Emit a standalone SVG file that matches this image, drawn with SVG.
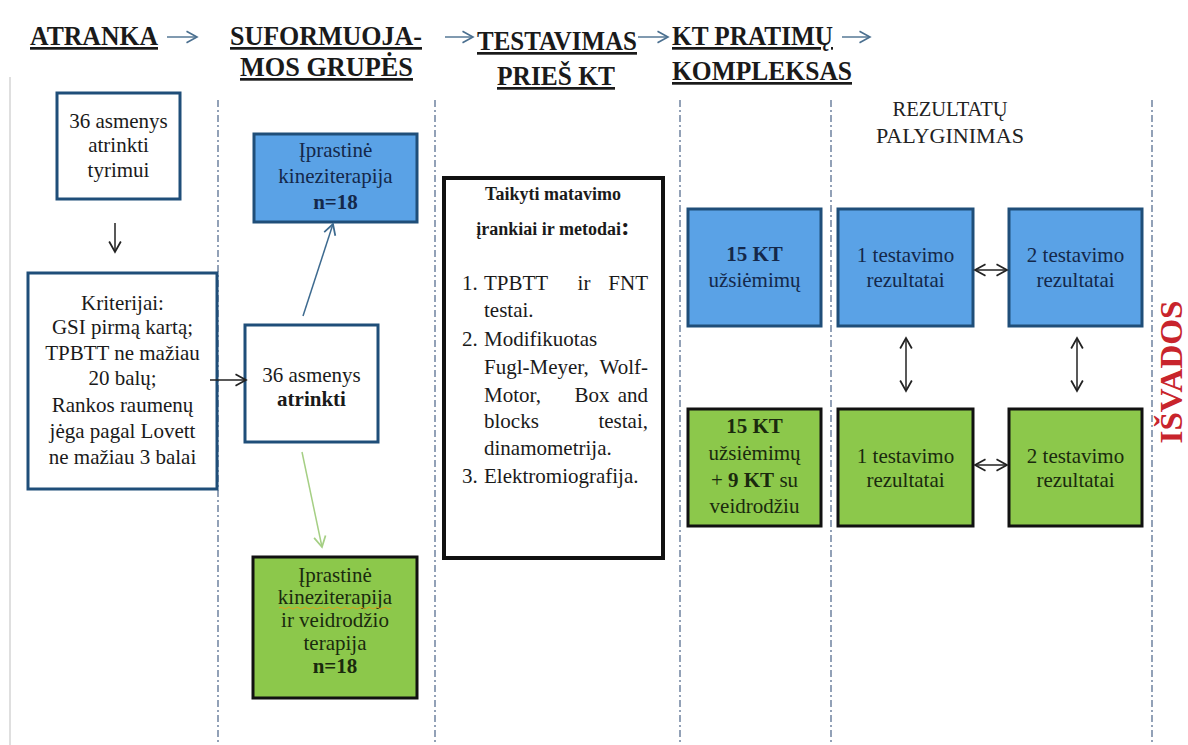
<svg xmlns="http://www.w3.org/2000/svg" width="1188" height="745" viewBox="0 0 1188 745">
<style>
text{font-family:"Liberation Serif","Tinos","Noto Serif","DejaVu Serif","FreeSerif","Nimbus Roman","Times New Roman",Times,serif;}
.hdr{font-weight:bold;font-size:27px;fill:#1a1a1a;text-decoration:underline;}
.t{font-size:21px;fill:#1a1a1a;text-anchor:middle;}
.tb{font-weight:bold;}
.tl{font-size:21px;fill:#1a1a1a;}
.rz{font-size:22px;fill:#222;text-anchor:middle;}
.blue{fill:#5aa2e6;stroke:#1f4e79;stroke-width:3;}
.green{fill:#8cc84b;stroke:#111;stroke-width:3;}
.white{fill:#fff;stroke:#1f4e79;stroke-width:3;}
.dash{stroke:#6f82a0;stroke-width:1.5;stroke-dasharray:7 3 2 3;fill:none;}
.con{stroke:#222;stroke-width:1.5;fill:none;}
.bt{fill:#14284a;}
.gt{fill:#1a2a0e;}
</style>
<defs>
<marker id="ah" markerUnits="userSpaceOnUse" markerWidth="14" markerHeight="14" refX="10" refY="6" orient="auto-start-reverse" viewBox="0 0 12 12">
<path d="M1,1 L10,6 L1,11" fill="none" stroke="#222" stroke-width="1.5"/>
</marker>
<marker id="ahb" markerUnits="userSpaceOnUse" markerWidth="14" markerHeight="14" refX="10" refY="6" orient="auto" viewBox="0 0 12 12">
<path d="M1,1 L10,6 L1,11" fill="none" stroke="#3d6a8f" stroke-width="1.5"/>
</marker>
<marker id="ahg" markerUnits="userSpaceOnUse" markerWidth="14" markerHeight="14" refX="10" refY="6" orient="auto" viewBox="0 0 12 12">
<path d="M1,1 L10,6 L1,11" fill="none" stroke="#a5cf84" stroke-width="1.5"/>
</marker>
<marker id="ahh" markerUnits="userSpaceOnUse" markerWidth="14" markerHeight="14" refX="10" refY="6" orient="auto" viewBox="0 0 12 12">
<path d="M1,1 L10,6 L1,11" fill="none" stroke="#4a6f8f" stroke-width="1.4"/>
</marker>
</defs>
<rect width="1188" height="745" fill="#fff"/>
<line x1="10" y1="77" x2="10" y2="745" stroke="#d4d4d4" stroke-width="1.5"/>

<g id="headers">
<text class="hdr" x="30" y="45" textLength="128" lengthAdjust="spacingAndGlyphs">ATRANKA</text>
<text class="hdr" x="230" y="45" textLength="192" lengthAdjust="spacingAndGlyphs">SUFORMUOJA-</text>
<text class="hdr" x="240" y="76" textLength="173" lengthAdjust="spacingAndGlyphs">MOS GRUPĖS</text>
<text class="hdr" x="477" y="50" textLength="160" lengthAdjust="spacingAndGlyphs">TESTAVIMAS</text>
<text class="hdr" x="497" y="85" textLength="118" lengthAdjust="spacingAndGlyphs">PRIEŠ KT</text>
<text class="hdr" x="672" y="45" textLength="161" lengthAdjust="spacingAndGlyphs">KT PRATIMŲ</text>
<text class="hdr" x="672" y="80" textLength="180" lengthAdjust="spacingAndGlyphs">KOMPLEKSAS</text>
<text class="rz" x="950" y="116" textLength="115" lengthAdjust="spacingAndGlyphs">REZULTATŲ</text>
<text class="rz" x="950" y="143" textLength="148" lengthAdjust="spacingAndGlyphs">PALYGINIMAS</text>
</g>

<g id="header-arrows" stroke="#4a6f8f" stroke-width="1.4">
<line x1="167" y1="37" x2="197" y2="37" marker-end="url(#ahh)"/>
<line x1="445" y1="37" x2="473" y2="37" marker-end="url(#ahh)"/>
<line x1="638" y1="37" x2="668" y2="37" marker-end="url(#ahh)"/>
<line x1="842" y1="37" x2="870" y2="37" marker-end="url(#ahh)"/>
</g>

<g id="separators">
<line class="dash" x1="218" y1="100" x2="218" y2="745"/>
<line class="dash" x1="435" y1="100" x2="435" y2="745"/>
<line class="dash" x1="680" y1="100" x2="680" y2="745"/>
<line class="dash" x1="831" y1="100" x2="831" y2="745"/>
<line class="dash" x1="1152" y1="100" x2="1152" y2="745"/>
</g>

<g id="n-atrinkti-tyrimui">
<rect class="white" x="57" y="93" width="123" height="106"/>
<text class="t" x="118.5" y="128">36 asmenys</text>
<text class="t" x="118.5" y="152">atrinkti</text>
<text class="t" x="118.5" y="177">tyrimui</text>
</g>

<g id="n-kriterijai">
<rect class="white" x="28" y="273" width="189" height="216"/>
<text class="t" x="122.5" y="310">Kriterijai:</text>
<text class="t" x="122.5" y="334">GSI pirmą kartą;</text>
<text class="t" x="122.5" y="360">TPBTT ne mažiau</text>
<text class="t" x="122.5" y="385">20 balų;</text>
<text class="t" x="122.5" y="412">Rankos raumenų</text>
<text class="t" x="122.5" y="438">jėga pagal Lovett</text>
<text class="t" x="122.5" y="464">ne mažiau  3  balai</text>
</g>

<g id="n-atrinkti">
<rect class="white" x="245" y="325" width="133" height="117"/>
<text class="t" x="311.5" y="382">36 asmenys</text>
<text class="t tb" x="311.5" y="406">atrinkti</text>
</g>

<g id="n-iprastine">
<rect class="blue" x="254" y="134" width="163" height="88"/>
<text class="t bt" x="335.5" y="157">Įprastinė</text>
<text class="t bt" x="335.5" y="183">kineziterapija</text>
<text class="t bt tb" x="335.5" y="209">n=18</text>
</g>

<g id="n-veidrodzio">
<rect class="green" x="253" y="557" width="164" height="141"/>
<text class="t gt" x="335" y="582">Įprastinė</text>
<text class="t gt" x="335" y="604">kineziterapija</text>
<path d="M279,608 q2,-2 4,0 t4,0 t4,0 t4,0 t4,0 t4,0 t4,0 t4,0 t4,0 t4,0 t4,0 t4,0 t4,0 t4,0 t4,0 t4,0 t4,0 t4,0 t4,0 t4,0 t4,0 t4,0 t4,0 t4,0 t4,0 t4,0 t4,0 t4,0" fill="none" stroke="#d9a520" stroke-width="1"/>
<text class="t gt" x="335" y="627">ir veidrodžio</text>
<text class="t gt" x="335" y="650">terapija</text>
<text class="t gt tb" x="335" y="673">n=18</text>
</g>

<g id="n-testavimas">
<rect x="444" y="178" width="219" height="380" fill="#fff" stroke="#111" stroke-width="4"/>
<text class="t tb" x="553" y="200" style="font-size:18px">Taikyti matavimo</text>
<text class="t tb" x="553" y="235" style="font-size:18px">įrankiai ir metodai<tspan style="font-size:26px">:</tspan></text>
<text class="tl" x="462" y="290">1.</text>
<text class="tl" x="484" y="290">TPBTT</text>
<text class="tl" x="584" y="290" text-anchor="middle">ir</text>
<text class="tl" x="648" y="290" text-anchor="end">FNT</text>
<text class="tl" x="484" y="317">testai.</text>
<text class="tl" x="462" y="346">2.</text>
<text class="tl" x="484" y="346">Modifikuotas</text>
<text class="tl" x="484" y="374">Fugl-Meyer,</text>
<text class="tl" x="648" y="374" text-anchor="end">Wolf-</text>
<text class="tl" x="484" y="402">Motor,</text>
<text class="tl" x="592" y="402" text-anchor="middle">Box</text>
<text class="tl" x="648" y="402" text-anchor="end">and</text>
<text class="tl" x="484" y="428">blocks</text>
<text class="tl" x="648" y="428" text-anchor="end">testai,</text>
<text class="tl" x="484" y="455">dinamometrija.</text>
<text class="tl" x="462" y="483">3.</text>
<text class="tl" x="484" y="483">Elektromiografija.</text>
</g>

<g id="n-kt15">
<rect class="blue" x="688" y="209" width="133" height="117"/>
<text class="t bt tb" x="754.5" y="261">15 KT</text>
<text class="t bt" x="754.5" y="287">užsiėmimų</text>
</g>
<g id="n-b1">
<rect class="blue" x="838" y="209" width="135" height="117"/>
<text class="t bt" x="905.5" y="262">1 testavimo</text>
<text class="t bt" x="905.5" y="287">rezultatai</text>
</g>
<g id="n-b2">
<rect class="blue" x="1009" y="209" width="133" height="117"/>
<text class="t bt" x="1075.5" y="262">2 testavimo</text>
<text class="t bt" x="1075.5" y="287">rezultatai</text>
</g>
<g id="n-kt24">
<rect class="green" x="688" y="409" width="133" height="117"/>
<text class="t gt tb" x="754.5" y="433">15 KT</text>
<text class="t gt" x="754.5" y="460">užsiėmimų</text>
<text class="t gt" x="754.5" y="487">+ <tspan class="tb">9 KT</tspan> su</text>
<text class="t gt" x="754.5" y="513">veidrodžiu</text>
</g>
<g id="n-g1">
<rect class="green" x="838" y="409" width="135" height="117"/>
<text class="t gt" x="905.5" y="463">1 testavimo</text>
<text class="t gt" x="905.5" y="487">rezultatai</text>
</g>
<g id="n-g2">
<rect class="green" x="1009" y="409" width="133" height="117"/>
<text class="t gt" x="1075.5" y="463">2 testavimo</text>
<text class="t gt" x="1075.5" y="487">rezultatai</text>
</g>

<g id="n-isvados">
<text x="1182" y="372" transform="rotate(-90 1182 372)" style="font-weight:bold;font-size:32px;fill:#c8242c;text-anchor:middle" textLength="143" lengthAdjust="spacingAndGlyphs">IŠVADOS</text>
</g>

<g id="connectors">
<line class="con" x1="115" y1="223" x2="115" y2="252" marker-end="url(#ah)"/>
<line class="con" x1="210" y1="380" x2="246" y2="380" marker-end="url(#ah)"/>
<line x1="303" y1="316" x2="333" y2="224" stroke="#3d6a8f" stroke-width="1.5" marker-end="url(#ahb)"/>
<line x1="302" y1="452" x2="322" y2="547" stroke="#a5cf84" stroke-width="1.5" marker-end="url(#ahg)"/>
<line class="con" x1="975" y1="270" x2="1007" y2="270" marker-start="url(#ah)" marker-end="url(#ah)"/>
<line class="con" x1="975" y1="465" x2="1007" y2="465" marker-start="url(#ah)" marker-end="url(#ah)"/>
<line class="con" x1="906" y1="338" x2="906" y2="391" marker-start="url(#ah)" marker-end="url(#ah)"/>
<line class="con" x1="1077" y1="338" x2="1077" y2="391" marker-start="url(#ah)" marker-end="url(#ah)"/>
</g>
</svg>
